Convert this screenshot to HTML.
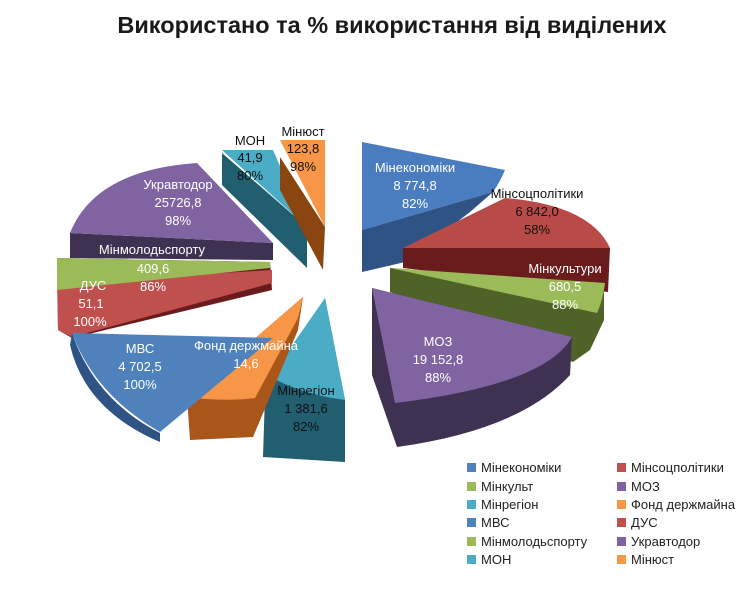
<!DOCTYPE html>
<html><head><meta charset="utf-8"><style>
body{margin:0;background:#fff;}
svg{display:block;font-family:"Liberation Sans","DejaVu Sans",sans-serif;}
</style></head><body>
<svg width="740" height="589" viewBox="0 0 740 589" xmlns="http://www.w3.org/2000/svg">
<text x="392" y="33" font-size="23.5" font-weight="bold" text-anchor="middle" fill="#1a1a1a">Використано та % використання від виділених</text>

<!-- Мінекономіки -->
<path d="M362,142 L505,170 Q500,182 493,192 L362,230Z" fill="#4a7cc0"/>
<path d="M362,230 L493,192 L470,212 L405,262 L362,272Z" fill="#2f5385"/>
<!-- Мінсоцполітики -->
<path d="M403,248 L505,198 Q590,205 610,248Z" fill="#b84a47"/>
<path d="M403,248 L610,248 L608,292 L403,268Z" fill="#6a1c1c"/>
<!-- Мінкультури -->
<path d="M390,268 L604,283 L604,320 L590,350 L573,362 L390,292Z" fill="#4f6228"/>
<path d="M390,268 L605,283 Q603,300 597,313Z" fill="#9bbb59"/>
<!-- МОЗ -->
<path d="M372,288 L372,375 L397,447 Q520,430 570,375 L572,337Z" fill="#3f3151"/>
<path d="M372,288 L572,337 Q545,385 395,403Z" fill="#8064a2"/>
<!-- Мінрегіон -->
<path d="M325,298 L345,400 L345,462 L263,457 L265,395Z" fill="#215e70"/>
<path d="M325,298 L270,377 Q305,395 345,400Z" fill="#4bacc6"/>
<!-- Фонд держмайна -->
<path d="M303,297 L298,330 L253,437 L190,440 L187,397Z" fill="#a8561a"/>
<path d="M303,297 L187,397 Q225,402 255,398 L298,318Z" fill="#f79646"/>
<!-- ДУС / Мінмолодьспорту -->
<path d="M57,258 L270,262 L272,290 L72,338 L58,330Z" fill="#6a1c1c"/>
<path d="M57,283 L272,270 L272,283 L72,337 L58,330Z" fill="#c0504d"/>
<path d="M57,258 L270,262 L270,268 L57,290Z" fill="#9bbb59"/>
<!-- МВС -->
<path d="M72,333 Q95,400 160,433 L160,442 Q85,410 70,345Z" fill="#2f5385"/>
<path d="M72,333 L273,338 L160,432 Q95,395 72,333Z" fill="#4f81bd"/>
<!-- Укравтодор -->
<path d="M70,233 L273,243 L273,260 L70,258Z" fill="#3f3151"/>
<path d="M70,233 Q95,170 197,163 L273,243Z" fill="#8064a2"/>
<!-- МОН -->
<path d="M222,153 L307,227 L307,268 L222,185Z" fill="#215e70"/>
<path d="M222,150 L273,150 L307,227Z" fill="#4bacc6"/>
<!-- Мінюст -->
<path d="M280,157 L325,227 L323,270 L280,190Z" fill="#8a4510"/>
<path d="M280,140 L325,140 L325,227Z" fill="#f79646"/>

<g font-size="13" text-anchor="middle">
<text x="415" y="172" fill="#fff">Мінекономіки</text>
<text x="415" y="190" fill="#fff">8 774,8</text>
<text x="415" y="208" fill="#fff">82%</text>
<text x="537" y="198" fill="#111">Мінсоцполітики</text>
<text x="537" y="216" fill="#111">6 842,0</text>
<text x="537" y="234" fill="#111">58%</text>
<text x="565" y="273" fill="#fff">Мінкультури</text>
<text x="565" y="291" fill="#fff">680,5</text>
<text x="565" y="309" fill="#fff">88%</text>
<text x="438" y="346" fill="#fff">МОЗ</text>
<text x="438" y="364" fill="#fff">19 152,8</text>
<text x="438" y="382" fill="#fff">88%</text>
<text x="306" y="395" fill="#111">Мінрегіон</text>
<text x="306" y="413" fill="#111">1 381,6</text>
<text x="306" y="431" fill="#111">82%</text>
<text x="246" y="350" fill="#fff">Фонд держмайна</text>
<text x="246" y="368" fill="#fff">14,6</text>
<text x="140" y="353" fill="#fff">МВС</text>
<text x="140" y="371" fill="#fff">4 702,5</text>
<text x="140" y="389" fill="#fff">100%</text>
<text x="178" y="189" fill="#fff">Укравтодор</text>
<text x="178" y="207" fill="#fff">25726,8</text>
<text x="178" y="225" fill="#fff">98%</text>
<text x="152" y="254" fill="#fff">Мінмолодьспорту</text>
<text x="153" y="273" fill="#fff">409,6</text>
<text x="153" y="291" fill="#fff">86%</text>
<text x="93" y="290" fill="#fff">ДУС</text>
<text x="91" y="308" fill="#fff">51,1</text>
<text x="90" y="326" fill="#fff">100%</text>
<text x="250" y="145" fill="#111">МОН</text>
<text x="250" y="162" fill="#111">41,9</text>
<text x="250" y="180" fill="#111">80%</text>
<text x="303" y="136" fill="#111">Мінюст</text>
<text x="303" y="153" fill="#111">123,8</text>
<text x="303" y="171" fill="#111">98%</text>
</g>

<g font-size="13" fill="#222">
<rect x="467" y="463" width="9" height="9" fill="#4f81bd"/><text x="481" y="472">Мінекономіки</text>
<rect x="617" y="463" width="9" height="9" fill="#c0504d"/><text x="631" y="472">Мінсоцполітики</text>
<rect x="467" y="482" width="9" height="9" fill="#9bbb59"/><text x="481" y="491">Мінкульт</text>
<rect x="617" y="482" width="9" height="9" fill="#8064a2"/><text x="631" y="491">МОЗ</text>
<rect x="467" y="500" width="9" height="9" fill="#4bacc6"/><text x="481" y="509">Мінрегіон</text>
<rect x="617" y="500" width="9" height="9" fill="#f79646"/><text x="631" y="509">Фонд держмайна</text>
<rect x="467" y="518" width="9" height="9" fill="#4f81bd"/><text x="481" y="527">МВС</text>
<rect x="617" y="518" width="9" height="9" fill="#c0504d"/><text x="631" y="527">ДУС</text>
<rect x="467" y="537" width="9" height="9" fill="#9bbb59"/><text x="481" y="546">Мінмолодьспорту</text>
<rect x="617" y="537" width="9" height="9" fill="#8064a2"/><text x="631" y="546">Укравтодор</text>
<rect x="467" y="555" width="9" height="9" fill="#4bacc6"/><text x="481" y="564">МОН</text>
<rect x="617" y="555" width="9" height="9" fill="#f79646"/><text x="631" y="564">Мінюст</text>
</g>
</svg>
</body></html>
